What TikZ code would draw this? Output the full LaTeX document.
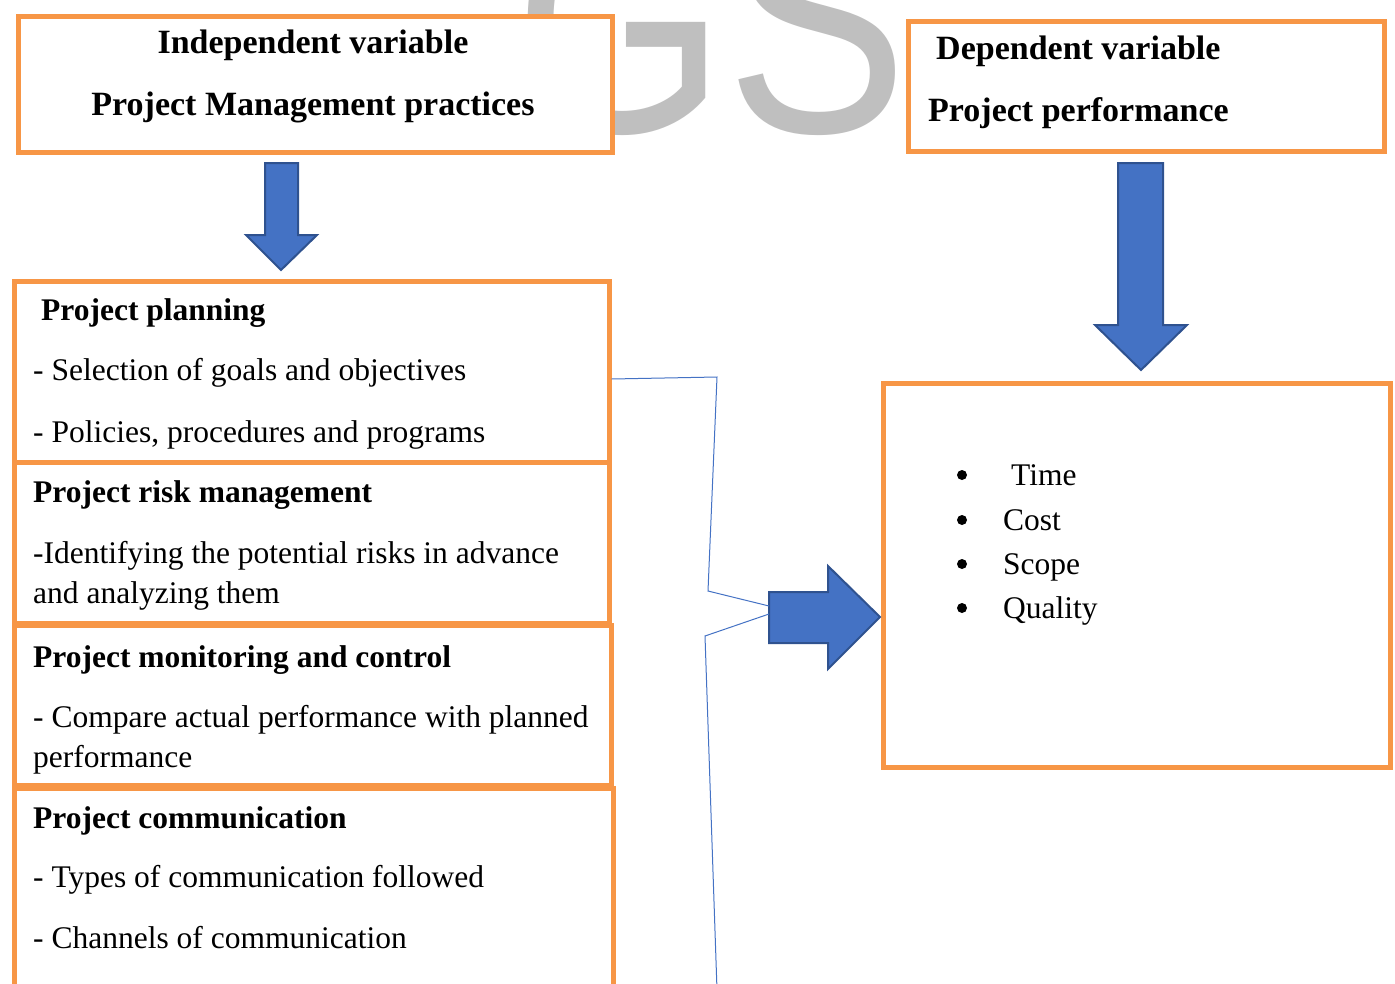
\documentclass[tikz,border=0pt]{standalone}
\usepackage{fontspec}
\setmainfont{Liberation Serif}
\newfontfamily\markfont{Liberation Sans}
\usetikzlibrary{positioning}
\definecolor{boxorange}{HTML}{F79646}
\definecolor{arrowblue}{HTML}{4472C4}
\definecolor{arrowedge}{HTML}{2F528F}

\begin{document}
\begin{tikzpicture}[
    x=1pt, y=-1pt,
    box/.style={draw=boxorange, line width=4.5pt, fill=white, inner sep=0pt, anchor=north west},
    heading/.style={font=\fontsize{34}{40}\selectfont\bfseries, inner sep=0pt},
    title/.style={font=\fontsize{31.5}{38}\selectfont\bfseries, anchor=base west, inner sep=0pt},
    item/.style={font=\fontsize{31.5}{38}\selectfont, anchor=base west, inner sep=0pt},
    block/.style={fill=arrowblue, draw=arrowedge, line width=2pt, line join=miter},
    link/.style={draw=arrowblue, line width=1pt}
  ]
  \useasboundingbox (0,0) rectangle (1395,983);
  \clip (0,0) rectangle (1395,983);

  % Watermark behind everything
  \node[font=\markfont\fontsize{320}{320}\selectfont, text=black!25, anchor=base east, inner sep=0pt, xscale=0.85, transform shape] (mark) at (908,132) {GS};

  % Variable boxes
  \node[box, minimum width=594pt, minimum height=136pt] (independent) at (16,14) {};
  \node[heading, anchor=base] (indeptitle) at (313,53) {Independent variable};
  \node[heading, anchor=base] (indepname) at (313,115) {Project Management practices};

  \node[box, minimum width=476pt, minimum height=130pt] (dependent) at (906,19) {};
  \node[heading, anchor=base west] (deptitle) at (936,59) {Dependent variable};
  \node[heading, anchor=base west] (depname) at (928,121) {Project performance};

  % Practices
  \node[box, minimum width=595pt, minimum height=181pt] (planning) at (12,279) {};
  \node[box, minimum width=595pt, minimum height=161pt] (risk) at (12,460) {};
  \node[box, minimum width=597pt, minimum height=160pt] (monitoring) at (12,623) {};
  \node[box, minimum width=599pt, minimum height=240pt] (communication) at (12,786) {};

  \node[title] (planhead) at (41,320) {Project planning};
  \node[item] (planA) at (33,380) {- Selection of goals and objectives};
  \node[item] (planB) at (33,442) {- Policies, procedures and programs};

  \node[title] (riskhead) at (33,502) {Project risk management};
  \node[item] (riskA) at (33,563) {-Identifying the potential risks in advance};
  \node[item] (riskB) at (33,603) {and analyzing them};

  \node[title] (monhead) at (33,667) {Project monitoring and control};
  \node[item] (monA) at (33,727) {- Compare actual performance with planned};
  \node[item] (monB) at (33,767) {performance};

  \node[title] (commhead) at (33,828) {Project communication};
  \node[item] (commA) at (33,887) {- Types of communication followed};
  \node[item] (commB) at (33,948) {- Channels of communication};

  % Performance measures
  \node[box, minimum width=507pt, minimum height=384pt] (performance) at (881,381) {};
  \fill (962,475) circle (5) (962,520) circle (5) (962,564) circle (5) (962,608) circle (5);
  \node[item] (time) at (1011,485) {Time};
  \node[item] (cost) at (1003,530) {Cost};
  \node[item] (scope) at (1003,574) {Scope};
  \node[item] (quality) at (1003,618) {Quality};

  % Block arrows
  \draw[block] (265,163) -- (298,163) -- (298,235) -- (317,235) -- (281,270) -- (246,235) -- (265,235) -- cycle;
  \draw[block] (1118,163) -- (1163,163) -- (1163,325) -- (1187,325) -- (1141,370) -- (1095,325) -- (1118,325) -- cycle;
  \draw[block] (769,592) -- (828,592) -- (828,566) -- (880,617) -- (828,669) -- (828,643) -- (769,643) -- cycle;

  % Bracket lines into the arrow
  \coordinate (upper) at (769,606);
  \coordinate (lower) at (769,614);
  \coordinate (bottom) at (717,990);
  \draw[link] (planning.east |- 0,379) -- (717,377) -- (708,591) -- (upper);
  \draw[link] (lower) -- (705,636) -- (bottom);
\end{tikzpicture}
\end{document}
